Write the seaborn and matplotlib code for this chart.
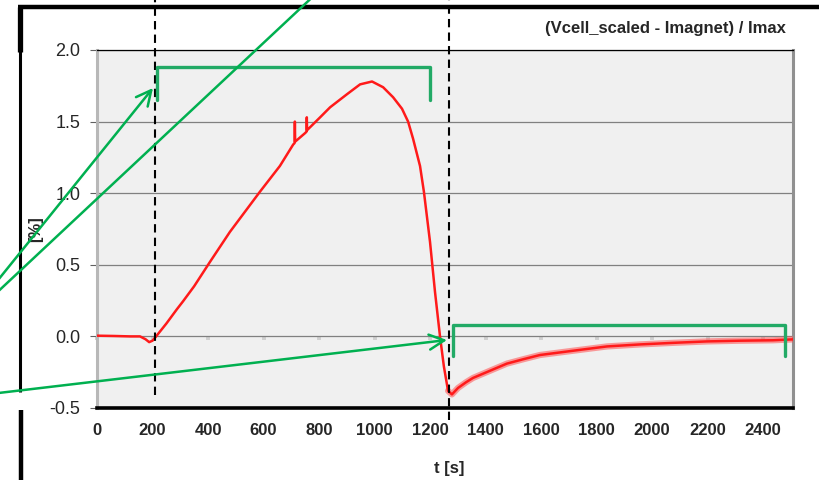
import numpy as np
import pandas as pd
import matplotlib
matplotlib.use("Agg")
import matplotlib.pyplot as plt
import seaborn as sns

# time [s] and signal [%]
t_s = [0, 60, 120, 155, 175, 188, 200, 213, 250, 288, 310, 350, 407, 479, 587,
       659, 707, 712, 713, 714, 750, 755, 756, 757, 804, 840, 900, 948, 991,
       1031, 1067, 1099, 1121, 1139, 1164, 1178, 1200, 1218, 1236, 1250, 1265,
       1279, 1301, 1330, 1355, 1416, 1477, 1535, 1596, 1716, 1838, 1957, 2076,
       2198, 2317, 2436, 2515]
v_pct = [0.005, 0.003, 0.0, 0.0, -0.02, -0.04, -0.03, 0.0, 0.09, 0.19, 0.245,
         0.35, 0.52, 0.73, 1.01, 1.19, 1.34, 1.35, 1.50, 1.36, 1.42, 1.43, 1.53,
         1.44, 1.53, 1.60, 1.69, 1.76, 1.78, 1.74, 1.67, 1.59, 1.50, 1.38, 1.19,
         1.01, 0.66, 0.31, 0.0, -0.21, -0.38, -0.405, -0.36, -0.32, -0.29, -0.24,
         -0.19, -0.16, -0.13, -0.10, -0.07, -0.056, -0.045, -0.035, -0.03,
         -0.027, -0.02]

x_ticks = list(range(0, 2401, 200))
y_ticks = [-0.5, 0.0, 0.5, 1.0, 1.5, 2.0]
step_times = [209, 1268]   # dashed markers

sns.set_theme(style="white")
plt.rcParams["font.family"] = ["Liberation Sans", "DejaVu Sans"]

W, H = 820, 480
fig = plt.figure(figsize=(W / 100, H / 100), dpi=100)
ax = fig.add_axes([97 / W, 1 - 408 / H, (793 - 97) / W, (408 - 50) / H])
ax.set_facecolor("#f0f0f0")

df = pd.DataFrame({"t": t_s, "v": v_pct})
tail = df[df["t"] >= 1265]
sns.lineplot(data=tail, x="t", y="v", ax=ax, color="#ff5050", lw=4.5,
             alpha=0.55, estimator=None, sort=False, zorder=3)
sns.lineplot(data=df, x="t", y="v", ax=ax, color="#ff1a1a", lw=1.8,
             estimator=None, sort=False, zorder=4)

ax.set_xlim(0, 2508)
ax.set_ylim(-0.5, 2.0)
ax.set_xticks(x_ticks)
ax.set_yticks(y_ticks)
ax.set_yticklabels([f"{v:.1f}" for v in y_ticks], fontsize=13)
ax.set_xticklabels([str(v) for v in x_ticks], fontsize=12, fontweight="bold")
ax.tick_params(axis="x", length=0, pad=11)
ax.tick_params(axis="y", left=True, length=5, width=0.8, color="#606060", pad=7)
ax.set_xlabel("")
ax.set_ylabel("")
ax.grid(axis="y", color="#808080", lw=0.9)
ax.grid(axis="x", visible=False)

ax.spines["left"].set_color("#b8b8b8")
ax.spines["left"].set_linewidth(2.2)
ax.spines["right"].set_color("#909090")
ax.spines["right"].set_linewidth(2.2)
ax.spines["bottom"].set_color("black")
ax.spines["bottom"].set_linewidth(2.6)
ax.spines["top"].set_color("black")
ax.spines["top"].set_linewidth(0.9)

# small gray ticks on the zero line
sec = ax.secondary_xaxis(0.2)
sec.set_xticks(x_ticks)
sec.xaxis.set_ticks_position("bottom")
sec.tick_params(direction="out", length=3, width=2.8, color="#d0d0d0",
                labelbottom=False, labeltop=False)
for s in sec.spines.values():
    s.set_visible(False)

# dashed step markers
ax.axvline(step_times[0], ymin=0.036, ymax=1.15, color="black", lw=1.5,
           ls=(0, (4, 2.5)), clip_on=False, zorder=5)
ax.axvline(step_times[1], ymin=-0.034, ymax=1.15, color="black", lw=1.5,
           ls=(0, (4, 2.5)), clip_on=False, zorder=5)

# green brackets
bracket = "#22aa66"
ax.plot([216, 216, 1200, 1200], [1.65, 1.88, 1.88, 1.65], color=bracket,
        lw=2.4, zorder=6, clip_on=False)
ax.plot([1283, 1283, 2479, 2479], [-0.14, 0.077, 0.077, -0.14], color=bracket,
        lw=2.4, zorder=6, clip_on=False)

fig.text(786 / W, 1 - 28 / H, "(Vcell_scaled - Imagnet) / Imax", ha="right",
         va="center", fontsize=12, fontweight="bold")
fig.text(36 / W, 1 - 229 / H, "[%]", rotation=90, ha="center", va="center",
         fontsize=12, fontweight="bold")
fig.text(449 / W, 1 - 469 / H, "t [s]", ha="center", va="center",
         fontsize=12, fontweight="bold")

# overlay in pixel coordinates for frame and arrows
ov = fig.add_axes([0, 0, 1, 1], zorder=10)
ov.set_xlim(0, W)
ov.set_ylim(H, 0)
ov.axis("off")
ov.patch.set_alpha(0)

ov.plot([18, W + 5], [7, 7], color="black", lw=3.2, solid_capstyle="butt")
ov.plot([20, 20], [7, 392], color="black", lw=2.2, solid_capstyle="butt")
ov.plot([20, 20], [7, 52], color="black", lw=3.8, solid_capstyle="butt")
ov.plot([21, 21], [410, H + 5], color="black", lw=3.2, solid_capstyle="butt")

arrow = "#00b050"
ov.plot([-10, 320], [299, -10], color=arrow, lw=1.8)
ov.annotate("", xy=(153, 88), xytext=(-10, 290),
            arrowprops=dict(arrowstyle="->,head_length=0.9,head_width=0.45",
                            color=arrow, lw=1.8, shrinkA=0, shrinkB=0))
ov.annotate("", xy=(447, 340), xytext=(-10, 394),
            arrowprops=dict(arrowstyle="->,head_length=0.9,head_width=0.45",
                            color=arrow, lw=1.8, shrinkA=0, shrinkB=0))

fig.savefig("out.png", dpi=100)
